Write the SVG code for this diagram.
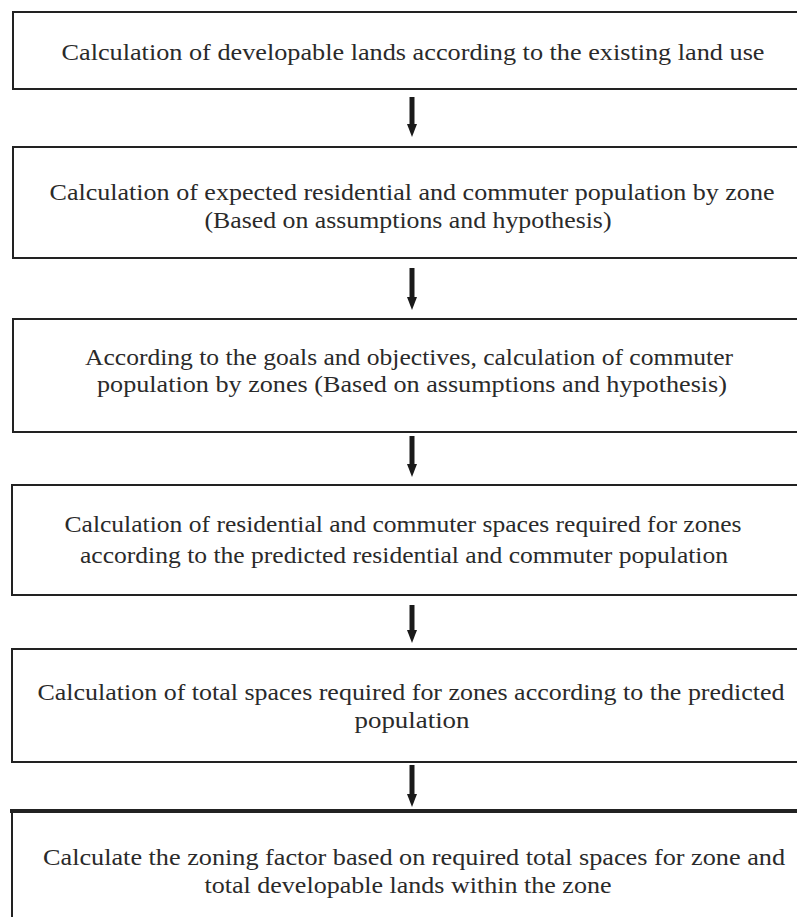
<svg xmlns="http://www.w3.org/2000/svg" width="797" height="917" viewBox="0 0 797 917">
<style>
.box{fill:#fff;stroke:#222;stroke-width:2}
.thick{stroke-width:4}
.t{font-family:"Liberation Serif","Times New Roman",serif;font-size:23px;fill:#2a2a2a;text-anchor:middle}
.arr{stroke:#1a1a1a;stroke-width:5;fill:none;marker-end:url(#ah)}
</style>
<defs>
<marker id="ah" markerUnits="userSpaceOnUse" markerWidth="13" markerHeight="10" viewBox="0 0 13 10" refX="0" refY="5" orient="auto">
<path d="M0,0 L13,5 L0,10 z" fill="#1a1a1a"/>
</marker>
</defs>
<rect width="797" height="917" fill="#fff"/>
<g id="connectors">
<line class="arr" x1="412" y1="97" x2="412" y2="124"/>
<line class="arr" x1="412" y1="268" x2="412" y2="297"/>
<line class="arr" x1="412" y1="436" x2="412" y2="464"/>
<line class="arr" x1="412" y1="605" x2="412" y2="630"/>
<line class="arr" x1="412" y1="765" x2="412" y2="794"/>
</g>
<g id="n1">
<rect class="box" x="13" y="12" width="800" height="77"/>
<text class="t" x="413" y="60" textLength="703" lengthAdjust="spacingAndGlyphs">Calculation of developable lands according to the existing land use</text>
</g>
<g id="n2">
<rect class="box" x="13" y="147" width="800" height="111"/>
<text class="t" x="412" y="200" textLength="725" lengthAdjust="spacingAndGlyphs">Calculation of expected residential and commuter population by zone</text>
<text class="t" x="408" y="228" textLength="407" lengthAdjust="spacingAndGlyphs">(Based on assumptions and hypothesis)</text>
</g>
<g id="n3">
<rect class="box" x="13" y="319" width="800" height="113"/>
<text class="t" x="409" y="365" textLength="648" lengthAdjust="spacingAndGlyphs">According to the goals and objectives, calculation of commuter</text>
<text class="t" x="412" y="392" textLength="630" lengthAdjust="spacingAndGlyphs">population by zones (Based on assumptions and hypothesis)</text>
</g>
<g id="n4">
<rect class="box" x="12" y="485" width="800" height="110"/>
<text class="t" x="403" y="532" textLength="677" lengthAdjust="spacingAndGlyphs">Calculation of residential and commuter spaces required for zones</text>
<text class="t" x="404" y="563" textLength="648" lengthAdjust="spacingAndGlyphs">according to the predicted residential and commuter population</text>
</g>
<g id="n5">
<rect class="box" x="12" y="649" width="800" height="113"/>
<text class="t" x="411" y="700" textLength="747" lengthAdjust="spacingAndGlyphs">Calculation of total spaces required for zones according to the predicted</text>
<text class="t" x="412" y="728" textLength="115" lengthAdjust="spacingAndGlyphs">population</text>
</g>
<g id="n6">
<rect class="box" x="12" y="811" width="800" height="130"/>
<line class="box thick" x1="10" y1="811" x2="797" y2="811"/>
<text class="t" x="414" y="865" textLength="742" lengthAdjust="spacingAndGlyphs">Calculate the zoning factor based on required total spaces for zone and</text>
<text class="t" x="408" y="893" textLength="407" lengthAdjust="spacingAndGlyphs">total developable lands within the zone</text>
</g>
</svg>
